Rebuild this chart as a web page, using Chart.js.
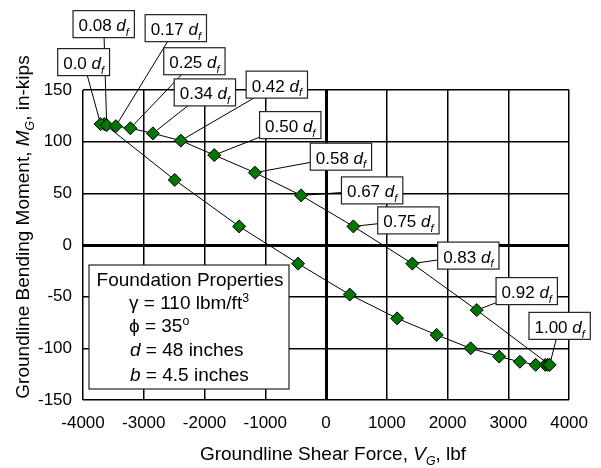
<!DOCTYPE html>
<html>
<head>
<meta charset="utf-8">
<script src="https://cdn.jsdelivr.net/npm/chart.js@4/dist/chart.umd.min.js"></script>
<style>
  html, body { margin: 0; padding: 0; background: #fff; }
</style>
</head>
<body>
<canvas id="chart" width="601" height="468"></canvas>
<script>
// upper branch (labelled by depth fraction), shear force lbf / moment in-kips
const upperShear = [-3710, -3610, -3460, -3220, -2850, -2390, -1840, -1170, -410, 450, 1420, 2480, 3680];
const upperMoment = [117, 116, 115, 113, 108, 101, 87, 70, 48, 18, -18, -63, -116];
const depthLabels = ['0.0', '0.08', '0.17', '0.25', '0.34', '0.42', '0.50', '0.58', '0.67', '0.75', '0.83', '0.92', '1.00'];

// lower branch
const lowerShear = [-3650, -2490, -1430, -460, 390, 1170, 1820, 2380, 2850, 3190, 3450, 3610, 3650];
const lowerMoment = [117, 63, 18, -18, -48, -71, -87, -100, -108, -113, -116, -116, -116];

const xTicks = [-4000, -3000, -2000, -1000, 0, 1000, 2000, 3000, 4000];
const yTicks = [-150, -100, -50, 0, 50, 100, 150];

// label box offsets (px) from each point
const labelOffsets = [
  [-17, -62], [-3, -101], [60, -98], [64, -67], [52, -41], [96, -56], [76, -30],
  [86, -16], [71, -5], [55, -6], [56, -8], [50, -19], [10, -39]
];

const FONT = '"Liberation Sans", Arial, sans-serif';

function richWidth(ctx, parts, size) {
  let w = 0;
  parts.forEach(p => {
    const s = (p.sub || p.sup) ? size * 0.65 : size;
    ctx.font = (p.i ? 'italic ' : '') + s + 'px ' + FONT;
    w += ctx.measureText(p.t).width;
  });
  return w;
}

function drawRich(ctx, parts, x, y, size, align) {
  const w = richWidth(ctx, parts, size);
  let cx = align === 'center' ? x - w / 2 : x;
  ctx.textBaseline = 'alphabetic';
  ctx.textAlign = 'left';
  parts.forEach(p => {
    const s = (p.sub || p.sup) ? size * 0.65 : size;
    ctx.font = (p.i ? 'italic ' : '') + s + 'px ' + FONT;
    let dy = 0;
    if (p.sub) dy = size * 0.28;
    if (p.sup) dy = -size * 0.38;
    ctx.fillText(p.t, cx, y + dy);
    cx += ctx.measureText(p.t).width;
  });
}

function labelParts(t) {
  return [{t: t + ' '}, {t: 'd', i: true}, {t: 'f', i: true, sub: true}];
}

const annotations = {
  id: 'annotations',
  beforeDatasetsDraw(chart) {
    const ctx = chart.ctx;
    const meta = chart.getDatasetMeta(0);
    ctx.save();
    ctx.strokeStyle = '#000';
    ctx.lineWidth = 1;
    meta.data.forEach((pt, i) => {
      const o = labelOffsets[i];
      ctx.beginPath();
      ctx.moveTo(pt.x, pt.y);
      ctx.lineTo(pt.x + o[0], pt.y + o[1]);
      ctx.stroke();
    });
    ctx.restore();
  },
  afterDraw(chart) {
    const ctx = chart.ctx;
    const meta = chart.getDatasetMeta(0);
    ctx.save();
    // depth labels
    meta.data.forEach((pt, i) => {
      const o = labelOffsets[i];
      const parts = labelParts(depthLabels[i]);
      const w = richWidth(ctx, parts, 17) + 11;
      const h = 27;
      const cx = pt.x + o[0], cy = pt.y + o[1];
      ctx.fillStyle = '#fff';
      ctx.fillRect(cx - w / 2, cy - h / 2, w, h);
      ctx.strokeStyle = '#222';
      ctx.lineWidth = 1.2;
      ctx.strokeRect(cx - w / 2, cy - h / 2, w, h);
      ctx.fillStyle = '#000';
      drawRich(ctx, parts, cx, cy + 7, 17, 'center');
    });

    // properties box
    ctx.fillStyle = '#fff';
    ctx.fillRect(89, 265, 200, 124);
    ctx.strokeStyle = '#222';
    ctx.lineWidth = 1.2;
    ctx.strokeRect(89, 265, 200, 124);
    ctx.fillStyle = '#000';
    drawRich(ctx, [{t: 'Foundation Properties'}], 190, 286, 19, 'center');
    drawRich(ctx, [{t: 'γ = 110 lbm/ft'}, {t: '3', sup: true}], 129, 309, 19, 'left');
    drawRich(ctx, [{t: 'ϕ = 35'}, {t: 'o', sup: true}], 129, 332, 19, 'left');
    drawRich(ctx, [{t: 'd', i: true}, {t: ' = 48 inches'}], 130, 356, 19, 'left');
    drawRich(ctx, [{t: 'b', i: true}, {t: ' = 4.5 inches'}], 130, 380.5, 19, 'left');

    // axis titles
    drawRich(ctx, [{t: 'Groundline Shear Force, '}, {t: 'V', i: true}, {t: 'G', i: true, sub: true}, {t: ', lbf'}], 333, 460, 19, 'center');
    ctx.translate(29, 227);
    ctx.rotate(-Math.PI / 2);
    drawRich(ctx, [{t: 'Groundline Bending Moment, '}, {t: 'M', i: true}, {t: 'G', i: true, sub: true}, {t: ', in-kips'}], 0, 0, 19, 'center');
    ctx.restore();
  }
};

const gridWidth = c => (c.tick && c.tick.value === 0) ? 3 : 1.5;

new Chart(document.getElementById('chart'), {
  type: 'scatter',
  data: {
    datasets: [
      {
        label: 'upper',
        data: upperShear.map((x, i) => ({x: x, y: upperMoment[i]})),
        showLine: true,
        borderColor: '#000',
        borderWidth: 1,
        pointStyle: 'rectRot',
        pointRadius: 6.5,
        pointBackgroundColor: '#007700',
        pointBorderColor: '#000',
        pointBorderWidth: 1
      },
      {
        label: 'lower',
        data: lowerShear.map((x, i) => ({x: x, y: lowerMoment[i]})),
        showLine: true,
        borderColor: '#000',
        borderWidth: 1,
        pointStyle: 'rectRot',
        pointRadius: 6.5,
        pointBackgroundColor: '#007700',
        pointBorderColor: '#000',
        pointBorderWidth: 1
      }
    ]
  },
  options: {
    responsive: false,
    animation: false,
    devicePixelRatio: 1,
    layout: {padding: {top: 90, right: 21, left: 0, bottom: 0}},
    plugins: {legend: {display: false}, tooltip: {enabled: false}},
    scales: {
      x: {
        type: 'linear',
        min: -4000,
        max: 4000,
        afterFit: s => { s.height = 68; },
        afterBuildTicks: s => { s.ticks = xTicks.map(v => ({value: v})); },
        ticks: {color: '#000', font: {family: FONT, size: 17}, padding: 13, maxRotation: 0, autoSkip: false,
                callback: v => String(v)},
        grid: {color: '#000', lineWidth: gridWidth, drawTicks: false},
        border: {display: false}
      },
      y: {
        type: 'linear',
        min: -150,
        max: 150,
        afterFit: s => { s.width = 83; },
        afterBuildTicks: s => { s.ticks = yTicks.map(v => ({value: v})); },
        ticks: {color: '#000', font: {family: FONT, size: 17}, padding: 11, autoSkip: false,
                callback: v => String(v)},
        grid: {color: '#000', lineWidth: gridWidth, drawTicks: false},
        border: {display: false}
      }
    }
  },
  plugins: [annotations]
});
</script>
</body>
</html>
